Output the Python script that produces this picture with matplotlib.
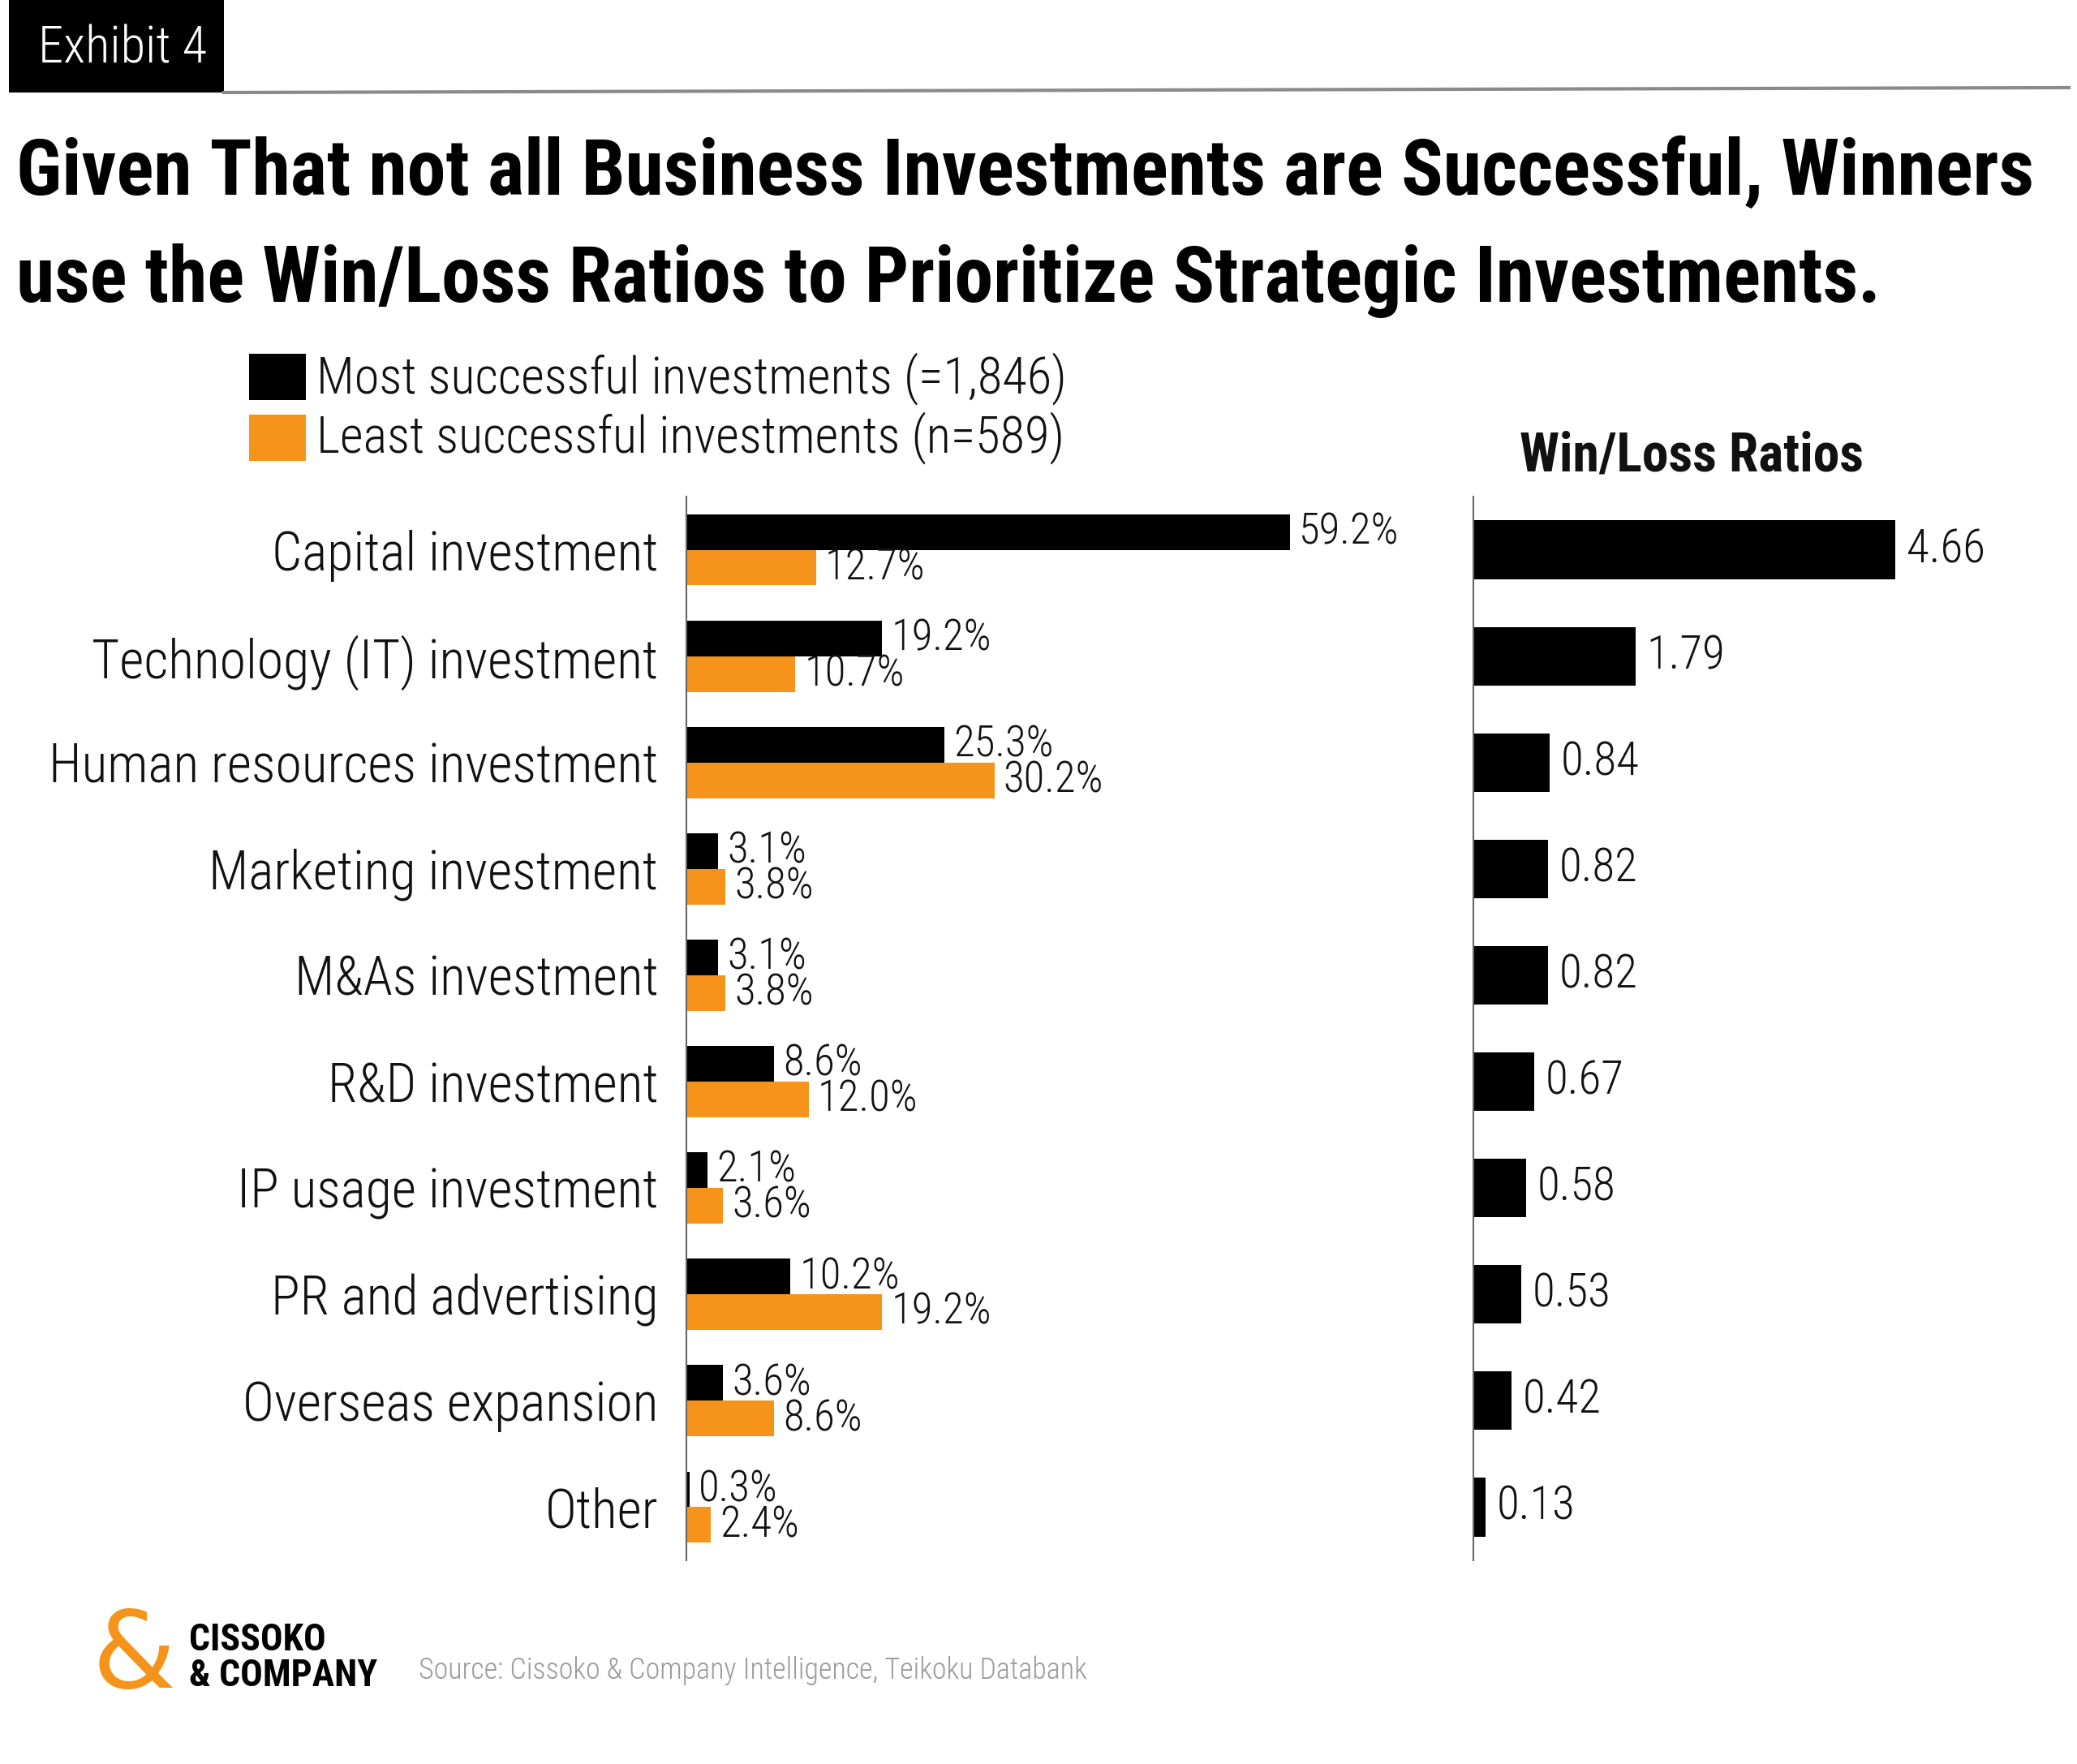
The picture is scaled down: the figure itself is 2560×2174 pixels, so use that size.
import numpy as np
import matplotlib
matplotlib.use("Agg")
import matplotlib.pyplot as plt
from matplotlib.patches import Rectangle
from matplotlib.lines import Line2D

# ---------------- data ----------------
categories = ["Capital investment", "Technology (IT) investment", "Human resources investment",
              "Marketing investment", "M&As investment", "R&D investment", "IP usage investment",
              "PR and advertising", "Overseas expansion", "Other"]
most_successful = [59.2, 19.2, 25.3, 3.1, 3.1, 8.6, 2.1, 10.2, 3.6, 0.3]
least_successful = [12.7, 10.7, 30.2, 3.8, 3.8, 12.0, 3.6, 19.2, 8.6, 2.4]
win_loss = [4.66, 1.79, 0.84, 0.82, 0.82, 0.67, 0.58, 0.53, 0.42, 0.13]
legend_labels = ["Most successful investments (=1,846)", "Least successful investments (n=589)"]
title_lines = ["Given That not all Business Investments are Successful, Winners",
               "use the Win/Loss Ratios to Prioritize Strategic Investments."]
source_text = "Source: Cissoko & Company Intelligence, Teikoku Databank"

# ---------------- style ----------------
ORANGE = "#F5931A"
BODY = ["Roboto Condensed", "Roboto", "DejaVu Sans"]
TITLE = ["DejaVu Sans Condensed", "Roboto Condensed", "Roboto", "DejaVu Sans"]
plt.rcParams["font.family"] = BODY

W, H = 2560, 2174
fig = plt.figure(figsize=(W / 100, H / 100), dpi=100)
renderer = fig.canvas.get_renderer()


def fx(x):
    return x / W


def fy(y):
    return 1 - y / H


def fit(t, target_w):
    bb = t.get_window_extent(renderer)
    t.set_fontsize(t.get_fontsize() * target_w / bb.width)
    return t.get_fontsize()


# ---------------- header ----------------
fig.patches.append(Rectangle((fx(11), fy(114)), fx(265), 114 / H, transform=fig.transFigure,
                             facecolor="black", edgecolor="none"))
t = fig.text(fx(151), fy(60), "Exhibit 4", color="white", ha="center", va="center", fontsize=40,
             fontweight="light")
fit(t, 208)
fig.lines.append(Line2D([fx(276), fx(2550)], [fy(114), fy(108)], transform=fig.transFigure,
                        color="#8a8a8a", lw=3))

t1 = fig.text(fx(20), fy(240), title_lines[0], fontweight="bold", ha="left", va="baseline",
              fontsize=60, family=TITLE)
fs = fit(t1, 2491)
fig.text(fx(20), fy(372), title_lines[1], fontweight="bold", ha="left", va="baseline", fontsize=fs,
         family=TITLE)

# ---------------- legend ----------------
fig.patches.append(Rectangle((fx(307), fy(493)), fx(70), 57 / H, transform=fig.transFigure,
                             facecolor="black", edgecolor="none"))
fig.patches.append(Rectangle((fx(307), fy(568)), fx(70), 57 / H, transform=fig.transFigure,
                             facecolor=ORANGE, edgecolor="none"))
lt = fig.text(fx(390), fy(467), legend_labels[0], ha="left", va="center", fontsize=40,
              color="#111111", fontweight="light")
lfs = fit(lt, 926)
fig.text(fx(390), fy(540), legend_labels[1], ha="left", va="center", fontsize=lfs, color="#111111",
         fontweight="light")

# ---------------- left chart ----------------
n = len(categories)
y = np.arange(n)
h = 0.335
bottom = fy(1923)
height = 1311 / H
axL = fig.add_axes([fx(846), bottom, 914 / W, height])
axL.barh(y - h / 2, most_successful, height=h, color="black")
axL.barh(y + h / 2, least_successful, height=h, color=ORANGE)
axL.set_xlim(0, 914 / 12.57)
axL.set_ylim(n - 0.5, -0.5)
for s in ["top", "right", "bottom"]:
    axL.spines[s].set_visible(False)
axL.spines["left"].set_color("#666666")
axL.spines["left"].set_linewidth(1.5)
axL.set_xticks([])
axL.set_yticks(y)
axL.set_yticklabels(categories, fontweight="light")
axL.tick_params(axis="y", length=0, pad=25, labelcolor="#111111")

# fit tick label size
probe = fig.text(0, 0, "Human resources investment", fontsize=40, fontweight="light")
cfs = fit(probe, 751)
probe.remove()
axL.tick_params(axis="y", labelsize=cfs)

probe = fig.text(0, 0, "59.2%", fontsize=40, fontweight="light")
vfs = fit(probe, 140) * 0.88
probe.remove()

for i in range(n):
    axL.annotate(f"{most_successful[i]:.1f}%", (most_successful[i], y[i] - h / 2), xytext=(8, 0),
                 textcoords="offset points", va="center", ha="left", fontsize=vfs, color="#111111",
                 fontweight="light")
    axL.annotate(f"{least_successful[i]:.1f}%", (least_successful[i], y[i] + h / 2), xytext=(8, 0),
                 textcoords="offset points", va="center", ha="left", fontsize=vfs, color="#111111",
                 fontweight="light")

# ---------------- right chart ----------------
axR = fig.add_axes([fx(1816), bottom, 724 / W, height])
axR.barh(y, win_loss, height=0.55, color="black")
axR.set_xlim(0, 724 / 111.6)
axR.set_ylim(n - 0.5, -0.5)
for s in ["top", "right", "bottom"]:
    axR.spines[s].set_visible(False)
axR.spines["left"].set_color("#666666")
axR.spines["left"].set_linewidth(1.5)
axR.set_xticks([])
axR.set_yticks([])
for i in range(n):
    axR.annotate(f"{win_loss[i]:.2f}", (win_loss[i], y[i]), xytext=(10, 0),
                 textcoords="offset points", va="center", ha="left", fontsize=vfs / 0.88 * 0.95,
                 color="#111111", fontweight="light")

wt = fig.text(fx(2085), fy(563), "Win/Loss Ratios", ha="center", va="center", fontweight="bold",
              fontsize=40, color="#111111")
fit(wt, 424)

# ---------------- footer ----------------
fig.text(fx(165), fy(2043), "&", ha="center", va="center", color=ORANGE, fontsize=95,
         family=["DejaVu Sans"])
c1 = fig.text(fx(233), fy(2021), "CISSOKO", ha="left", va="center", fontweight="bold", fontsize=30)
c2 = fig.text(fx(233), fy(2065), "& COMPANY", ha="left", va="center", fontweight="bold", fontsize=30)
cfs2 = fit(c2, 232)
c1.set_fontsize(cfs2)
st = fig.text(fx(516), fy(2059), source_text, ha="left", va="center", color="#9a9a9a", fontsize=30,
              fontweight="light")
fit(st, 823)

fig.savefig("out.png", dpi=100, facecolor="white")
